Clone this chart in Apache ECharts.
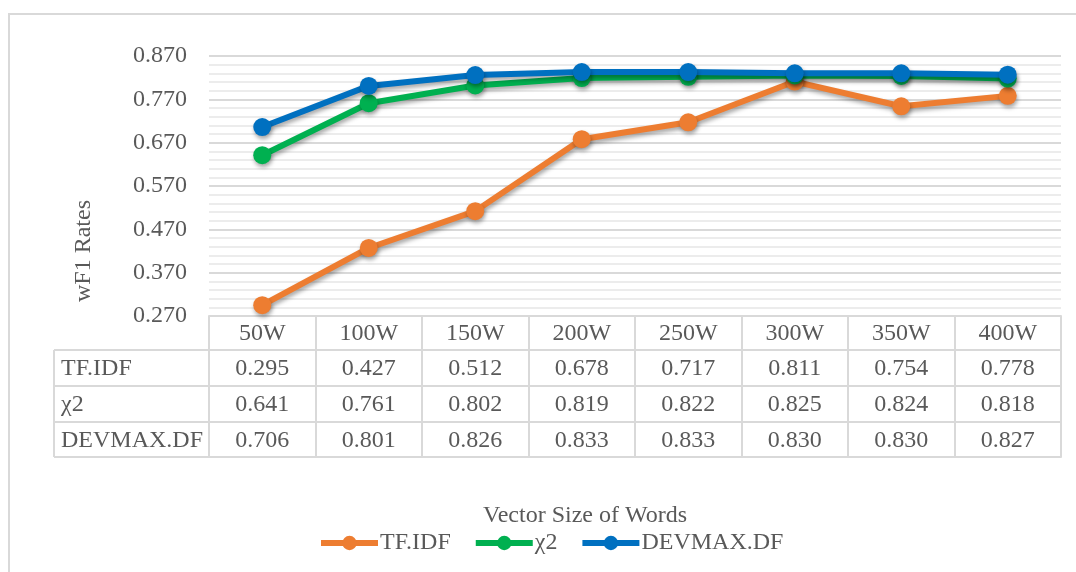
<!DOCTYPE html>
<html>
<head>
<meta charset="utf-8">
<script src="https://cdn.jsdelivr.net/npm/echarts@6/dist/echarts.min.js"></script>
<style>
  html, body { margin: 0; padding: 0; background: #ffffff; }
  #chart { width: 1076px; height: 572px; }
</style>
</head>
<body>
<div id="chart"></div>
<script>
// Vector sizes (columns of the data table / x categories)
const categories = ['50W', '100W', '150W', '200W', '250W', '300W', '350W', '400W'];

// wF1 rates per feature-selection method
const tfidf  = [0.295, 0.427, 0.512, 0.678, 0.717, 0.811, 0.754, 0.778];
const chi2   = [0.641, 0.761, 0.802, 0.819, 0.822, 0.825, 0.824, 0.818];
const devmax = [0.706, 0.801, 0.826, 0.833, 0.833, 0.830, 0.830, 0.827];

const seriesNames = ['TF.IDF', 'χ2', 'DEVMAX.DF'];
const seriesData = [tfidf, chi2, devmax];
const seriesColors = ['#ED7D31', '#00B050', '#0070C0'];

// y axis range and step
const yMin = 0.27, yMax = 0.87, yStep = 0.1;

const FONT = '"Liberation Serif", "Times New Roman", serif';
const TEXT = '#595959';
const BORDER = '#D9D9D9';
const FS = 24;

// plot / table layout
const W = 1076, H = 572;
const plotLeft = 209, plotRight = 1061, plotTop = 56, plotBottom = 316;
const rowEdges = [316, 350, 386, 422, 457];   // horizontal rules of the table
const tableLeft = 54;

const chart = echarts.init(document.getElementById('chart'), null, { renderer: 'canvas' });

function tableAxis(rowIdx, labelFn) {
  const top = rowEdges[rowIdx];
  const h = rowEdges[rowIdx + 1] - top;
  return {
    type: 'category',
    data: categories,
    position: 'bottom',
    offset: top - plotBottom,
    boundaryGap: true,
    axisLine: { show: true, lineStyle: { color: BORDER, width: 2 } },
    axisTick: { show: true, length: h, lineStyle: { color: BORDER, width: 2 } },
    axisLabel: {
      show: true, interval: 0, margin: (h - FS) / 2 + 1,
      fontFamily: FONT, fontSize: FS, color: TEXT,
      formatter: labelFn
    },
    splitLine: { show: false }
  };
}

const xAxes = [
  tableAxis(0, (v) => v),
  tableAxis(1, (v, i) => tfidf[i].toFixed(3)),
  tableAxis(2, (v, i) => chi2[i].toFixed(3)),
  tableAxis(3, (v, i) => devmax[i].toFixed(3)),
  {
    type: 'category', data: categories, position: 'bottom',
    offset: rowEdges[4] - plotBottom,
    axisLine: { show: true, lineStyle: { color: BORDER, width: 2 } },
    axisTick: { show: false }, axisLabel: { show: false }, splitLine: { show: false }
  }
];

const shadow = { shadowColor: 'rgba(0,0,0,0.35)', shadowBlur: 4, shadowOffsetY: 3, shadowOffsetX: 1 };

const series = seriesNames.map((name, k) => ({
  name: name,
  type: 'line',
  xAxisIndex: 0,
  yAxisIndex: 0,
  data: seriesData[k],
  symbol: 'circle',
  symbolSize: 18,
  z: 2 + k,
  color: seriesColors[k],
  lineStyle: Object.assign({ width: 6, color: seriesColors[k] }, shadow),
  itemStyle: Object.assign({ color: seriesColors[k] }, shadow),
  emphasis: { disabled: true },
  animation: false
}));

// left column of the data table: row-header cells with series names
const tableGraphics = [];
tableGraphics.push({
  type: 'line', silent: true,
  shape: { x1: tableLeft, y1: rowEdges[1], x2: tableLeft, y2: rowEdges[4] },
  style: { stroke: BORDER, lineWidth: 2 }
});
for (let r = 1; r <= 4; r++) {
  tableGraphics.push({
    type: 'line', silent: true,
    shape: { x1: tableLeft, y1: rowEdges[r], x2: plotLeft, y2: rowEdges[r] },
    style: { stroke: BORDER, lineWidth: 2 }
  });
}
seriesNames.forEach((name, k) => {
  tableGraphics.push({
    type: 'text', silent: true,
    x: tableLeft + 7, y: (rowEdges[k + 1] + rowEdges[k + 2]) / 2 + 1,
    style: {
      text: name, font: FS + 'px ' + FONT, fill: TEXT,
      align: 'left', verticalAlign: 'middle'
    }
  });
});

const option = {
  backgroundColor: '#ffffff',
  animation: false,
  grid: {
    left: plotLeft, right: W - plotRight, top: plotTop, bottom: H - plotBottom,
    containLabel: false, outerBoundsMode: 'none'
  },
  legend: {
    data: seriesNames,
    left: 318, top: 531, padding: 0,
    itemWidth: 57, itemHeight: 18, itemGap: 22,
    lineStyle: { width: 6, shadowBlur: 0, shadowOffsetY: 0, shadowOffsetX: 0 },
    itemStyle: { shadowBlur: 0, shadowOffsetY: 0, shadowOffsetX: 0 },
    textStyle: { fontFamily: FONT, fontSize: FS, color: TEXT, padding: [0, 0, 0, -3] },
    selectedMode: false
  },
  xAxis: xAxes,
  yAxis: {
    type: 'value',
    min: yMin, max: yMax, interval: yStep,
    axisLine: { show: false },
    axisTick: { show: false },
    axisLabel: {
      margin: 22, fontFamily: FONT, fontSize: FS, color: TEXT,
      formatter: (v) => v.toFixed(3)
    },
    splitLine: { show: true, lineStyle: { color: BORDER, width: 2 } },
    minorTick: { show: false, splitNumber: 5 },
    minorSplitLine: { show: true, lineStyle: { color: '#ECECEC', width: 2 } }
  },
  graphic: [
    {
      type: 'rect', silent: true, z: -10,
      shape: { x: 9, y: 14, width: W + 20, height: H + 20 },
      style: { fill: 'none', stroke: BORDER, lineWidth: 2 }
    },
    {
      type: 'text', silent: true,
      x: 84, y: 251, rotation: Math.PI / 2,
      style: {
        text: 'wF1 Rates', font: FS + 'px ' + FONT, fill: TEXT,
        align: 'center', verticalAlign: 'middle'
      }
    },
    {
      type: 'text', silent: true,
      x: 585, y: 516,
      style: {
        text: 'Vector Size of Words', font: FS + 'px ' + FONT, fill: TEXT,
        align: 'center', verticalAlign: 'middle'
      }
    }
  ].concat(tableGraphics),
  series: series
};

chart.setOption(option);
</script>
</body>
</html>
